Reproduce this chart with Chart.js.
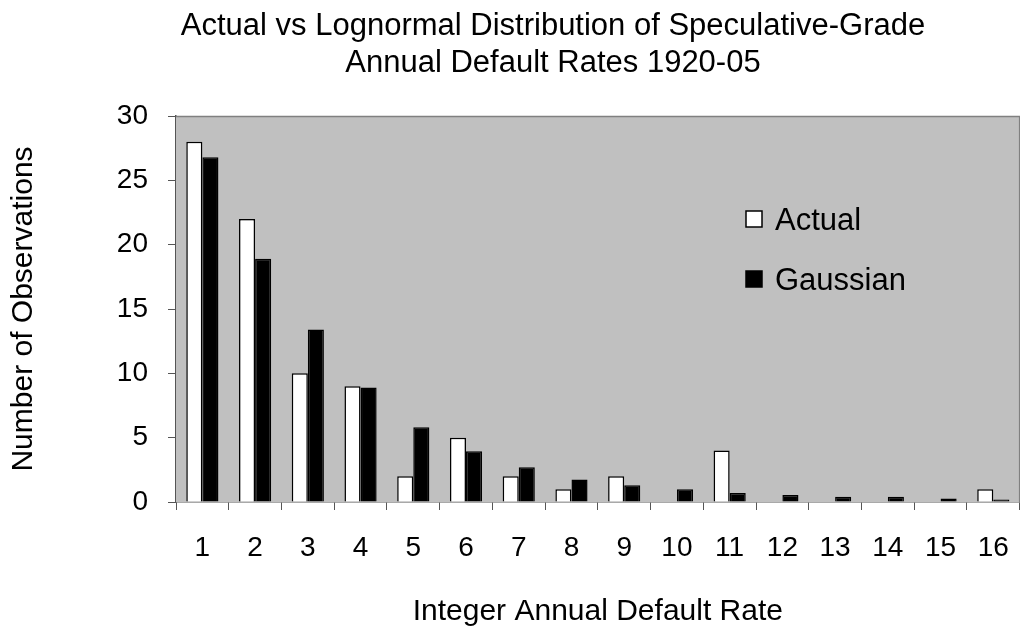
<!DOCTYPE html>
<html>
<head>
<meta charset="utf-8">
<script src="https://cdn.jsdelivr.net/npm/chart.js@4/dist/chart.umd.min.js"></script>
<style>
  html, body { margin: 0; padding: 0; background: #fff; overflow: hidden; }
  #wrap { width: 1030px; height: 631px; }
</style>
</head>
<body>
<div id="wrap"><canvas id="chart"></canvas></div>
<script>
const categories = ["1","2","3","4","5","6","7","8","9","10","11","12","13","14","15","16"];
const actual     = [28, 22, 10, 9, 2, 5, 2, 1, 2, 0, 4, 0, 0, 0, 0, 1];
const gaussian   = [26.8, 18.9, 13.4, 8.9, 5.8, 3.95, 2.7, 1.75, 1.3, 1.0, 0.7, 0.55, 0.4, 0.4, 0.27, 0.2];
const yTicks     = [0, 5, 10, 15, 20, 25, 30];
const titleLines = ["Actual vs Lognormal Distribution of Speculative-Grade", "Annual Default Rates 1920-05"];

const FONT = "Arial, 'Liberation Sans', sans-serif";

/* ── grey plot area + frame ── */
const plotBg = {
    id: "plotBg",
    beforeDatasetsDraw(chart) {
        const { ctx, chartArea: a } = chart;
        ctx.save();
        ctx.fillStyle = "#c0c0c0";
        ctx.fillRect(a.left, a.top, a.right - a.left, a.bottom - a.top);
        ctx.strokeStyle = "#808080";
        ctx.lineWidth = 1.5;
        ctx.beginPath();
        ctx.moveTo(a.left, a.top + 0.5);
        ctx.lineTo(a.right, a.top + 0.5);
        ctx.lineTo(a.right, a.bottom);
        ctx.stroke();
        ctx.restore();
    }
};

/* ── title, centred a bit left of the plot like the original ── */
const topTitle = {
    id: "topTitle",
    afterDraw(chart) {
        const { ctx, chartArea: a } = chart;
        ctx.save();
        ctx.font = "31px " + FONT;
        ctx.fillStyle = "#000";
        ctx.textAlign = "center";
        ctx.textBaseline = "middle";
        titleLines.forEach((t, i) => ctx.fillText(t, a.left + 377, a.top - 90 + i * 37));
        ctx.restore();
    }
};

/* ── legend inside the plot ── */
const innerLegend = {
    id: "innerLegend",
    afterDraw(chart) {
        const { ctx, chartArea: a } = chart;
        const x = a.left + 570, rows = [a.top + 103, a.top + 163];
        ctx.save();
        ctx.font = "31px " + FONT;
        ctx.textBaseline = "middle";
        chart.data.datasets.forEach((ds, i) => {
            const y = rows[i];
            ctx.fillStyle = ds.backgroundColor;
            ctx.fillRect(x, y - 8, 16, 16);
            ctx.strokeStyle = "#000";
            ctx.lineWidth = 1.5;
            ctx.strokeRect(x, y - 8, 16, 16);
            ctx.fillStyle = "#000";
            ctx.fillText(ds.label, x + 29, y + 2);
        });
        ctx.restore();
    }
};

new Chart(document.getElementById("chart"), {
    type: "bar",
    data: {
        labels: categories,
        datasets: [
            { label: "Actual",   data: actual,   backgroundColor: "#ffffff", borderColor: "#000", borderWidth: 1.5 },
            { label: "Gaussian", data: gaussian, backgroundColor: "#000000", borderColor: "#000", borderWidth: 1.5 }
        ]
    },
    options: {
        responsive: true,
        maintainAspectRatio: false,
        animation: false,
        layout: { padding: { left: 0, right: 4, top: 116, bottom: 0 } },
        datasets: { bar: { categoryPercentage: 0.61, barPercentage: 1.0 } },
        plugins: {
            legend: { display: false },
            tooltip: { enabled: false },
            title: { display: false }
        },
        scales: {
            x: {
                afterFit(s) { s.height = 129; },
                grid: { display: true, drawOnChartArea: false, drawTicks: true, tickLength: 8, color: "#555", offset: true },
                border: { display: true, color: "#555", width: 1.5 },
                ticks: { color: "#000", font: { family: FONT, size: 28 }, padding: 21, maxRotation: 0, autoSkip: false },
                title: {
                    display: true, text: "Integer Annual Default Rate", color: "#000",
                    font: { family: FONT, size: 30, lineHeight: 1.2 }, padding: { top: 0, bottom: 1 }
                }
            },
            y: {
                min: 0, max: 30,
                afterFit(s) { s.width = 176; },
                afterBuildTicks(s) { s.ticks = yTicks.map(v => ({ value: v })); },
                grid: { display: true, drawOnChartArea: false, drawTicks: true, tickLength: 8, color: "#555" },
                border: { display: true, color: "#555", width: 1.5 },
                ticks: { color: "#000", font: { family: FONT, size: 28 }, padding: 20 },
                title: {
                    display: true, text: "Number of Observations", color: "#000",
                    font: { family: FONT, size: 30, lineHeight: 1.2 }, padding: { top: 6, bottom: 0 }
                }
            }
        }
    },
    plugins: [plotBg, topTitle, innerLegend]
});
</script>
</body>
</html>
